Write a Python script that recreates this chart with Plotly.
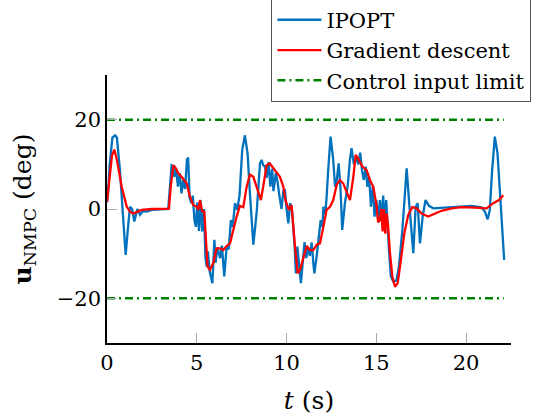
import plotly.graph_objects as go

t_ipopt = [0.0, 0.05, 0.15, 0.3, 0.45, 0.55, 0.72, 0.9, 1.04, 1.15, 1.28, 1.4, 1.52, 1.69, 1.84, 2.0, 2.2, 2.5, 3.0, 3.41,
           3.6, 3.68, 3.75, 3.85, 3.95, 4.05, 4.15, 4.25, 4.35, 4.45, 4.52, 4.6, 4.7, 4.78, 4.87, 4.95, 5.03, 5.12, 5.2, 5.3,
           5.4, 5.48, 5.55, 5.62, 5.72, 5.87, 5.98, 6.05, 6.15, 6.3, 6.4, 6.53, 6.66, 6.78, 6.9, 7.0, 7.13, 7.25, 7.38, 7.53,
           7.68, 7.83, 7.96, 8.15, 8.33, 8.52, 8.61, 8.7, 8.8, 8.9, 9.0, 9.1, 9.2, 9.27, 9.4, 9.5, 9.6, 9.72, 9.82, 9.91,
           10.0, 10.1, 10.2, 10.3, 10.45, 10.52, 10.6, 10.67, 10.8, 10.9, 11.0, 11.1, 11.2, 11.3, 11.4, 11.5, 11.55, 11.7, 11.8, 11.9,
           12.0, 12.05, 12.15, 12.22, 12.32, 12.45, 12.6, 12.7, 12.8, 12.9, 13.0, 13.1, 13.25, 13.4, 13.53, 13.62, 13.75, 13.88, 14.0, 14.1,
           14.2, 14.3, 14.4, 14.5, 14.6, 14.7, 14.8, 14.9, 15.0, 15.1, 15.2, 15.28, 15.38, 15.46, 15.55, 15.62, 15.7, 15.81, 15.94, 16.12,
           16.26, 16.45, 16.69, 16.83, 17.06, 17.19, 17.3, 17.43, 17.58, 17.74, 17.93, 18.17, 19.0, 20.3, 20.86, 21.05, 21.2, 21.32, 21.45, 21.6,
           21.75, 21.94, 22.12]
u_ipopt = [1.5, 3, 10, 16, 16.5, 16, 8.7, -2, -10.3, -5, 0.5, 0, -2.8, 0, -1.3, -0.5, -0.6, -0.2, -0.1, 0,
           9.8, 9.6, 7.2, 9, 5, 8, 3.5, 6.5, 4.5, 11, 11.5, 2.5, 1.3, 3, -2.5, -4, 1.5, -4.9, 2, -5,
           0, -10.7, -12.9, -9.5, -14, -16.6, -6.9, -12, -8.6, -11, -8.2, -15.1, -8.6, -9, -2.5, -4, 1.3, -0.2, 3, 13.2,
           16.5, 12.4, 3.5, -8, -1, 10.2, 11, 9.8, 9.5, 7, 10.5, 5, 9, 4, 8, 6, 3, 0, 4, 4.2,
           0, -3.2, 1.3, -0.2, -8.4, -14.4, -8.4, -11.4, -16.6, -12, -7.4, -11, -8.6, -10.5, -7.5, -12.5, -14.4, -9.8, -5.8, -2.5,
           -4, 0.5, -1.2, 2, 8.7, 16.2, 11, 5, 6.5, 10.2, 5, -4.7, 1.3, 5, 11, 13.6, 10, 11.4, 10, 12.6,
           8.7, 6.5, 9.5, 5, 7.2, 0.5, 5, -1.7, 2, -2.5, 2, -2.5, 3, -3, 2, -4, -9, -15.1, -16.2, -16,
           -12.9, -4.7, 9.1, 1.3, -9.9, 0.5, 1.3, -7.7, -1.7, 2, 0.7, 0.15, 0.4, 0.7, 0.4, -0.6, -2.3, -0.2, 8.7, 16.2,
           12.4, 1.3, -11.4]

t_gd = [0.0, 0.15, 0.28, 0.41, 0.55, 0.82, 1.1, 1.3, 1.47, 1.7, 1.93, 2.5, 3.45, 3.55, 3.7, 3.85, 3.97, 4.2, 4.44, 4.6,
        4.8, 5.0, 5.09, 5.18, 5.3, 5.42, 5.5, 5.6, 5.73, 5.92, 6.1, 6.3, 6.48, 6.66, 6.85, 7.03, 7.22, 7.4, 7.59, 7.78,
        7.96, 8.15, 8.33, 8.57, 8.7, 8.89, 9.07, 9.26, 9.45, 9.63, 9.82, 9.95, 10.13, 10.28, 10.47, 10.62, 10.75, 10.93, 11.12, 11.3,
        11.49, 11.68, 11.86, 12.05, 12.23, 12.42, 12.6, 12.79, 12.97, 13.16, 13.35, 13.53, 13.72, 13.85, 14.03, 14.22, 14.46, 14.64, 14.83, 14.95,
        15.02, 15.1, 15.2, 15.28, 15.35, 15.42, 15.5, 15.57, 15.66, 15.76, 15.89, 16.04, 16.19, 16.37, 16.56, 16.78, 17.0, 17.24, 17.52, 17.89,
        18.26, 18.63, 19.19, 19.75, 20.49, 21.14, 21.51, 21.83, 22.07]
u_gd = [1.6, 8, 12, 13.3, 11, 5, 0.5, -0.7, -1, -0.6, -0.2, 0, 0.1, 5, 9.8, 9, 8, 7, 5.7, 3,
        0.9, 0.5, -0.2, 2, -0.5, -0.6, -6, -12.9, -13.6, -12.1, -8.8, -8.8, -9.2, -8.3, -7.7, -4.7, -1.7, 0.7, 0.4, 5,
        7.7, 7.2, 5, 2, 5, 9.8, 10.2, 9.1, 8, 7.2, 5, 1.8, -0.2, 0.9, -8.4, -14.4, -13.6, -10.7, -8.3, -9.2,
        -9.2, -8, -7.7, -4, -0.2, 0.5, 2, 5.4, 6.5, 5.7, 3.9, 2, 7.2, 12.1, 11, 9.5, 8.7, 6.5, 5, 2,
        0.5, -3, -2.5, 0, -5, 0, -5.5, -1, -4, -9.9, -15.1, -17.4, -16.6, -11.4, -5.4, -1.3, 0.4, 0.15, -1, -1.7,
        -1.1, -0.4, 0.15, 0.4, 0.3, 0.15, 1.3, 2, 3.1]

t_limit = [0.0, 22.1]
u_limit_upper = [20, 20]
u_limit_lower = [-20, -20]

x_ticks = [0, 5, 10, 15, 20]
y_ticks = [-20, 0, 20]
y_tick_labels = ["\u221220", "0", "20"]

FONT = "DejaVu Serif, Liberation Serif, serif"

fig = go.Figure()
fig.add_trace(go.Scatter(x=t_ipopt, y=u_ipopt, mode="lines", name="IPOPT",
                         line=dict(color="#0072BD", width=2.3)))
fig.add_trace(go.Scatter(x=t_gd, y=u_gd, mode="lines", name="Gradient descent",
                         line=dict(color="#FF0000", width=2.3)))
fig.add_trace(go.Scatter(x=t_limit, y=u_limit_upper, mode="lines", name="Control input limit",
                         line=dict(color="#008000", width=2.5, dash="8px,4px,2px,4px")))
fig.add_trace(go.Scatter(x=t_limit, y=u_limit_lower, mode="lines", name="Control input limit",
                         showlegend=False,
                         line=dict(color="#008000", width=2.5, dash="8px,4px,2px,4px")))

fig.update_layout(
    width=541, height=419,
    margin=dict(l=107, r=30, t=75, b=76, autoexpand=False),
    paper_bgcolor="white", plot_bgcolor="white",
    font=dict(family=FONT, size=21, color="black"),
    legend=dict(x=0.407, y=1.285, xanchor="left", yanchor="top",
                bordercolor="#555555", borderwidth=1, bgcolor="white",
                font=dict(family=FONT, size=21), itemwidth=44,
                tracegroupgap=0),
    xaxis=dict(range=[0, 22.5], tickvals=x_ticks, ticks="inside", ticklen=10,
               tickcolor="#aaaaaa", showline=True, linecolor="black", linewidth=1.5,
               showgrid=False, zeroline=False,
               title=dict(text="<i>t</i> (s)", standoff=18)),
    yaxis=dict(range=[-30, 30], tickvals=y_ticks, ticktext=y_tick_labels, ticks="inside", ticklen=10,
               tickcolor="#aaaaaa", showline=True, linecolor="black", linewidth=1.5,
               showgrid=False, zeroline=False,
               title=dict(text="<b>u</b><sub>NMPC</sub> (deg)", standoff=18)),
)

fig.write_html("out.html", config={"displayModeBar": False},
               post_script="document.body.style.margin='0';document.body.style.overflow='hidden';")
